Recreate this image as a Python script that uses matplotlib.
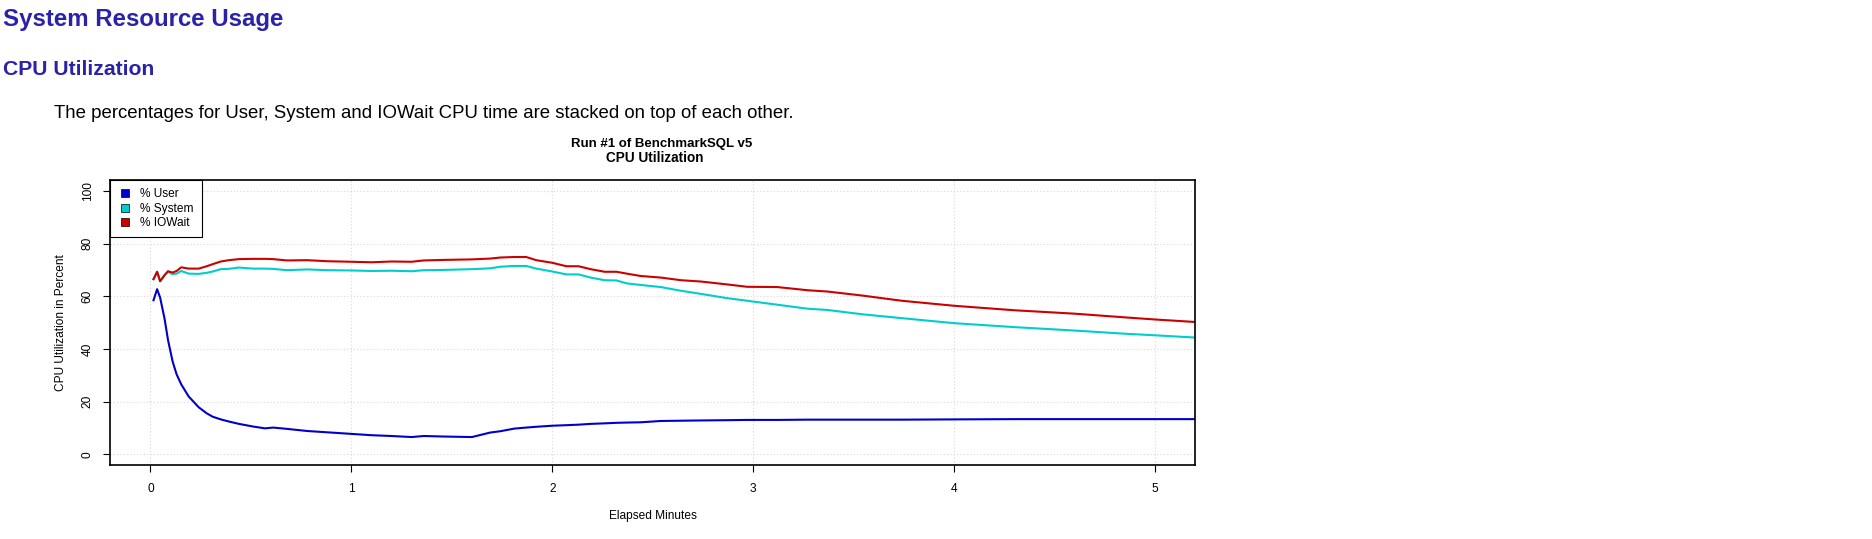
import matplotlib
matplotlib.use('Agg')
import matplotlib.pyplot as plt
from matplotlib.lines import Line2D
import numpy as np

# elapsed minutes and CPU percentages
minutes = [0.015, 0.033, 0.048, 0.07, 0.087, 0.11, 0.13, 0.153, 0.19, 0.24,
           0.28, 0.31, 0.35, 0.39, 0.44, 0.51, 0.57, 0.61, 0.68, 0.78,
           0.88, 1.0, 1.1, 1.2, 1.3, 1.36, 1.46, 1.6, 1.69, 1.74,
           1.81, 1.87, 1.92, 2.0, 2.07, 2.13, 2.19, 2.26, 2.32, 2.37,
           2.44, 2.54, 2.64, 2.74, 2.87, 2.97, 3.12, 3.27, 3.37, 3.54,
           3.74, 4.0, 4.3, 4.6, 4.85, 5.0, 5.21]
user = [58.5, 62.7, 59.5, 51.5, 43.5, 35.3, 30.4, 26.6, 22.0, 17.9,
        15.6, 14.3, 13.3, 12.5, 11.6, 10.6, 9.9, 10.2, 9.7, 8.9,
        8.4, 7.8, 7.3, 7.0, 6.6, 7.0, 6.8, 6.6, 8.3, 8.8,
        9.8, 10.2, 10.5, 10.9, 11.1, 11.3, 11.6, 11.8, 12.0, 12.1,
        12.2, 12.7, 12.8, 12.9, 13.0, 13.1, 13.1, 13.2, 13.2, 13.2,
        13.2, 13.3, 13.4, 13.4, 13.4, 13.4, 13.4]
system = [8.0, 6.6, 6.2, 16.5, 25.8, 33.1, 38.2, 43.0, 46.6, 50.6,
          53.3, 55.1, 57.0, 57.9, 59.3, 59.9, 60.6, 60.2, 60.2, 61.3,
          61.5, 62.0, 62.3, 62.7, 62.9, 62.9, 63.2, 63.7, 62.3, 62.4,
          61.7, 61.3, 60.0, 58.5, 57.2, 57.0, 55.5, 54.3, 54.0, 52.8,
          52.1, 50.8, 49.3, 48.0, 46.3, 45.2, 43.7, 42.1, 41.6, 40.0,
          38.5, 36.5, 34.9, 33.6, 32.4, 31.8, 30.9]
iowait = [0.0, 0.0, 0.0, 0.0, 0.2, 0.6, 1.0, 1.4, 1.9, 2.0,
          2.5, 2.8, 2.9, 3.3, 3.2, 3.7, 3.7, 3.7, 3.7, 3.5,
          3.4, 3.3, 3.3, 3.5, 3.6, 3.7, 3.8, 3.7, 3.7, 3.5,
          3.4, 3.4, 3.2, 3.3, 3.1, 3.1, 3.2, 3.2, 3.3, 3.7,
          3.4, 3.6, 4.0, 4.7, 5.2, 5.3, 6.7, 7.0, 7.0, 7.1,
          6.6, 6.6, 6.4, 6.4, 6.2, 6.0, 5.9]

labels = ['% User', '% System', '% IOWait']
colors = ['#0000cd', '#00cdcd', '#cd0000']

W, H = 1872, 539
plt.rcParams['font.family'] = ['Liberation Sans', 'DejaVu Sans']

fig = plt.figure(figsize=(W / 100., H / 100.), dpi=100)

# page text above the chart
hcol = '#2a22a8'
fig.text(3. / W, 1 - 26. / H, 'System Resource Usage', fontsize=17.3,
         weight='bold', color=hcol, va='baseline')
fig.text(3. / W, 1 - 75. / H, 'CPU Utilization', fontsize=15.2,
         weight='bold', color=hcol, va='baseline')
fig.text(54. / W, 1 - 117.5 / H,
         'The percentages for User, System and IOWait CPU time are stacked on top of each other.',
         fontsize=13.45, va='baseline')

ax = fig.add_axes([110.3 / W, 1 - 465. / H, 1085. / W, 284.7 / H])

stacked = np.cumsum([user, system, iowait], axis=0)
for i in range(3):
    ax.plot(minutes, stacked[i], color=colors[i], lw=1.5)

ax.set_xlim(-0.2, 5.2)
ax.set_ylim(-4, 104)
ax.set_xticks(range(6))
ax.set_yticks(range(0, 101, 20))
ax.grid(True, color='#d8d8d8', linestyle=(0, (1, 2)), linewidth=0.8)
ax.set_axisbelow(True)
for s in ax.spines.values():
    s.set_linewidth(1.2)
ax.tick_params(axis='both', labelsize=8.6, length=5, width=0.8)
ax.tick_params(axis='x', pad=8)
ax.tick_params(axis='y', pad=7)
for t in ax.get_yticklabels():
    t.set_rotation(90)
    t.set_va('center')

fig.text(662. / W, 1 - 147.3 / H, 'Run #1 of BenchmarkSQL v5', ha='center',
         va='baseline', fontsize=9.5, weight='bold')
fig.text(655. / W, 1 - 162.3 / H, 'CPU Utilization', ha='center',
         va='baseline', fontsize=9.8, weight='bold')
fig.text(652.8 / W, 1 - 516. / H, 'Elapsed Minutes', ha='center',
         va='center', fontsize=8.6)
fig.text(60.7 / W, 1 - 322.7 / H, 'CPU Utilization in Percent', ha='center',
         va='center', rotation=90, fontsize=8.6)

handles = [Line2D([], [], marker='s', linestyle='none', markersize=6,
                  markerfacecolor=c, markeredgecolor='black',
                  markeredgewidth=0.5) for c in colors]
leg = ax.legend(handles, labels, loc='upper left', borderaxespad=0,
                fontsize=8.6, fancybox=False, framealpha=1, edgecolor='black',
                borderpad=0.67, handlelength=1.12, handletextpad=0.7,
                labelspacing=0.2)
leg.get_frame().set_linewidth(0.8)

fig.savefig('out.png', dpi=100)
